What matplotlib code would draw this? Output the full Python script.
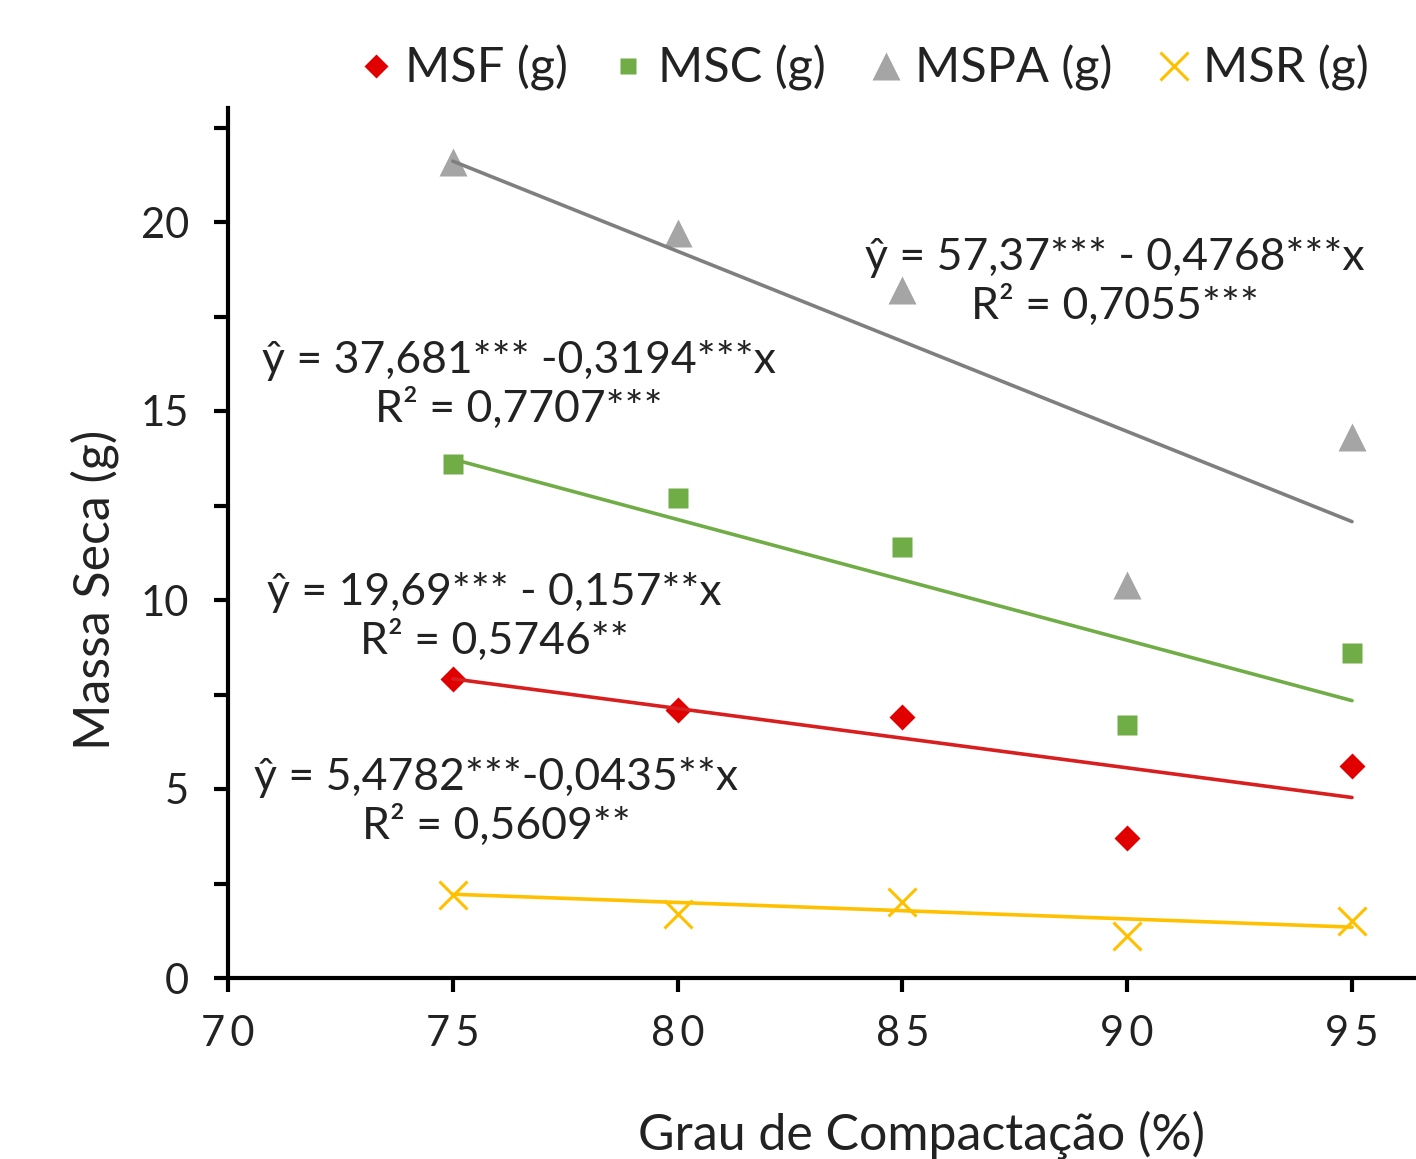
import matplotlib
matplotlib.use("Agg")
import matplotlib.pyplot as plt
import numpy as np
from matplotlib.lines import Line2D

plt.rcParams['font.family'] = ['Lato', 'DejaVu Sans']

x_vals = [75, 80, 85, 90, 95]
msf = [7.9, 7.1, 6.9, 3.7, 5.6]
msc = [13.6, 12.7, 11.4, 6.7, 8.6]
mspa = [21.6, 19.7, 18.2, 10.4, 14.3]
msr = [2.2, 1.7, 2.0, 1.1, 1.5]

series_names = ["MSF (g)", "MSC (g)", "MSPA (g)", "MSR (g)"]
intercepts = [19.69, 37.681, 57.37, 5.4782]
slopes = [-0.157, -0.3194, -0.4768, -0.0435]
equations = [
    "ŷ = 19,69*** - 0,157**x\nR² = 0,5746**",
    "ŷ = 37,681*** -0,3194***x\nR² = 0,7707***",
    "ŷ = 57,37*** - 0,4768***x\nR² = 0,7055***",
    "ŷ = 5,4782***-0,0435**x\nR² = 0,5609**",
]
x_ticks = [70, 75, 80, 85, 90, 95]
y_ticks = [0, 5, 10, 15, 20]

W, H = 1416, 1159
fig = plt.figure(figsize=(W / 100, H / 100), dpi=100)
ax = fig.add_axes([228 / W, 1 - 978 / H, 1 - 228 / W, (978 - 108) / H])

marker_colors = ["#E00000", "#70AD47", "#A5A5A5", "#FFC000"]
line_colors = ["#D81E1E", "#70AD47", "#7F7F7F", "#FFC000"]
markers = ["D", "s", "^", "x"]
msizes = [13, 14, 20, 20]
data = [msf, msc, mspa, msr]

xs = np.array([75, 95])
for i in range(4):
    yl = intercepts[i] + slopes[i] * xs
    ax.plot(xs, yl, color=line_colors[i], lw=2.6, zorder=3, solid_capstyle='round')
    kw = dict(color=marker_colors[i], marker=markers[i], ms=msizes[i], ls='none', zorder=2)
    if markers[i] == 'x':
        kw['mew'] = 2.2
    else:
        kw['mec'] = 'none'
    ax.plot(x_vals, data[i], **kw)

ax.set_xlim(70, 70 + (W - 228) / 44.96)
ax.set_ylim(0, (978 - 108) / 37.8)
for s in ['top', 'right']:
    ax.spines[s].set_visible(False)
for s in ['left', 'bottom']:
    ax.spines[s].set_linewidth(3)
ax.set_xticks(x_ticks)
ax.set_xticklabels(["\u2009".join(str(t)) for t in x_ticks])
ax.set_yticks(y_ticks)
ax.set_yticks([2.5, 7.5, 12.5, 17.5, 22.5], minor=True)
ax.tick_params(axis='both', which='both', direction='out', width=3, length=10,
               labelsize=30, color='black', labelcolor='#222222')
ax.tick_params(axis='x', pad=17)
ax.tick_params(axis='y', pad=18)

fig.text(95 / W, 1 - 590 / H, "Massa Seca (g)", rotation=90, ha='center', va='center',
         fontsize=36, color='#222222')
fig.text(922 / W, 1 - 1135 / H, "Grau de Compactação (%)", ha='center', va='center',
         fontsize=36, color='#222222')

eq_pos = [(494, 617), (519, 385), (1115, 282), (496, 802)]
for (px, py), eq in zip(eq_pos, equations):
    fig.text(px / W, 1 - py / H, eq, ha='center', va='center', fontsize=32,
             color='#222222', linespacing=1.2, multialignment='center')

handles = []
leg_sizes = [12, 12, 20, 20]
for i in range(4):
    kw = dict(color=marker_colors[i], marker=markers[i], ms=leg_sizes[i], ls='none')
    if markers[i] == 'x':
        kw['mew'] = 2.2
    else:
        kw['mec'] = 'none'
    handles.append(Line2D([], [], **kw))
fig.legend(handles, series_names, loc='center', bbox_to_anchor=(860 / W, 1 - 68 / H),
           ncol=4, frameon=False, fontsize=35, handletextpad=0.1, columnspacing=0.75,
           handlelength=1.0, labelcolor='#222222')

fig.savefig("out.png", dpi=100, facecolor='white')
